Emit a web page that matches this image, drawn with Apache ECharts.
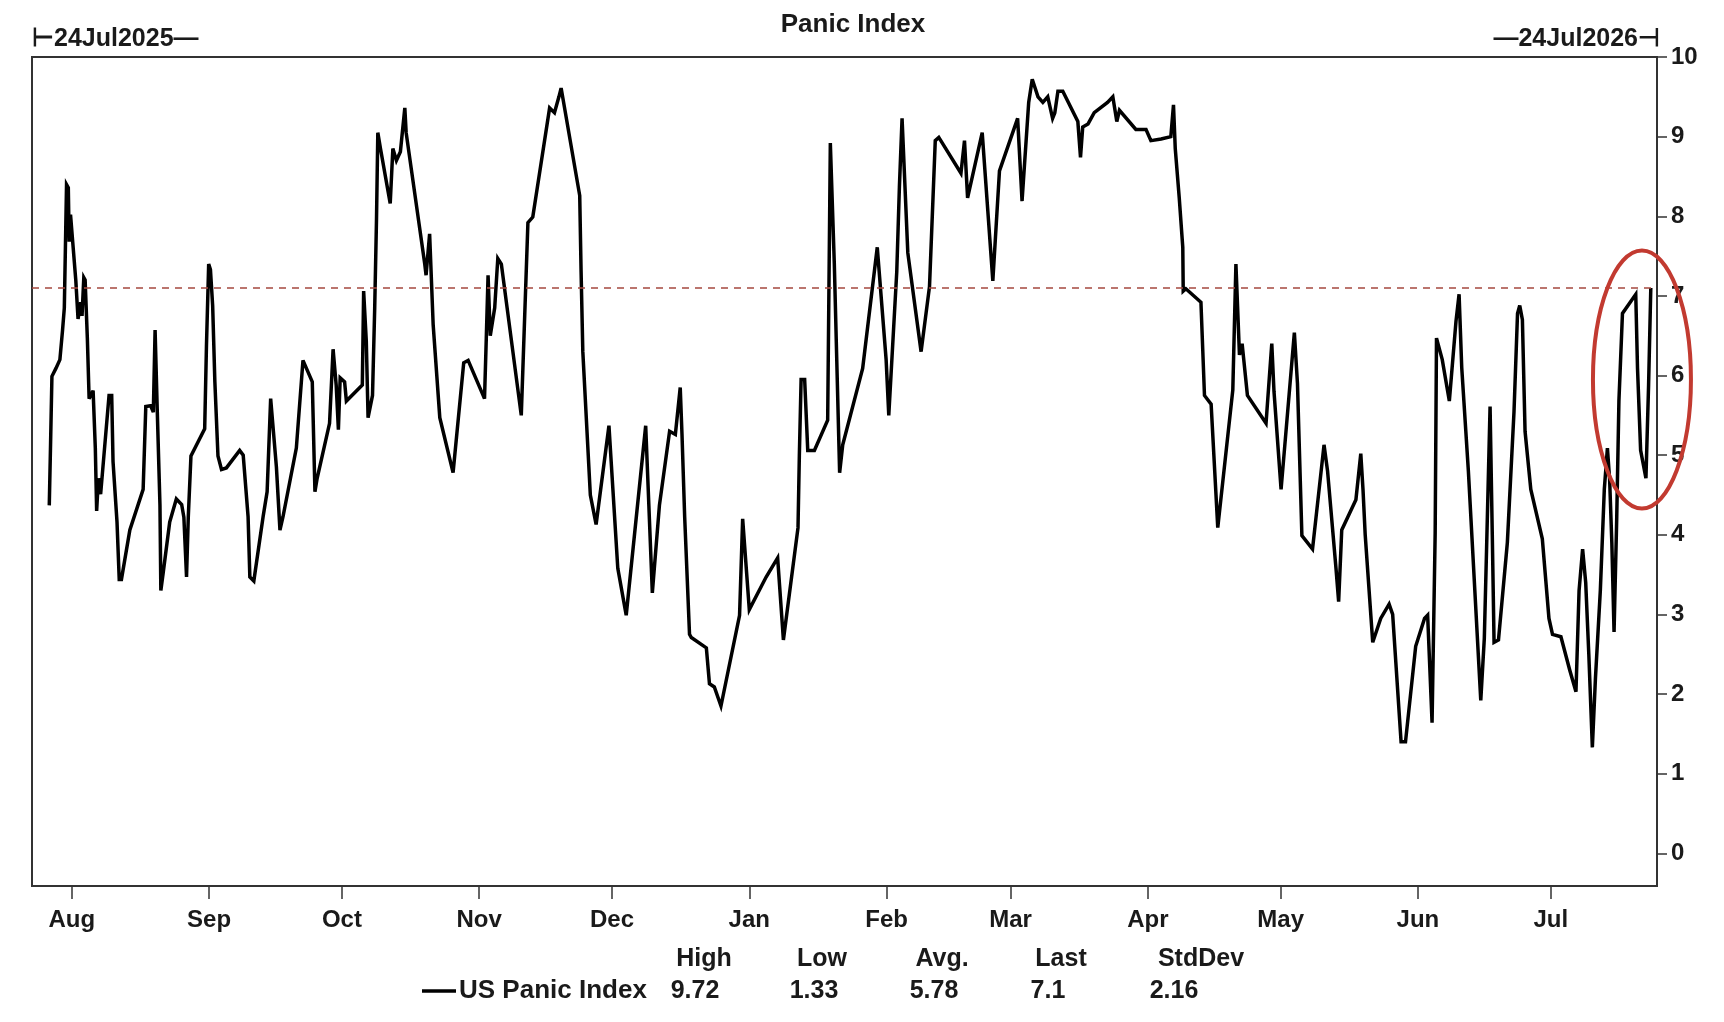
<!DOCTYPE html>
<html>
<head>
<meta charset="utf-8">
<script src="https://cdn.jsdelivr.net/npm/echarts@6/dist/echarts.min.js"></script>
<style>
html,body{margin:0;padding:0;background:#fff;}
#chart{width:1724px;height:1022px;}
</style>
</head>
<body>
<div id="chart"></div>
<script>
// ---------- DATA ----------
const seriesName = 'US Panic Index';
const chartTitle = 'Panic Index';
const startLabel = '24Jul2025';
const endLabel = '24Jul2026';
// days elapsed since 2025-08-01 for each vertex
const baseDate = '2025-08-01';
const dayOffsets = [
  -5.1,-4.8,-4.5,-3.6,-2.7,-2.1,-1.7,-1.2,-0.8,-0.6,-0.3,0.9,1.4,2.0,2.3,2.7,3.0,3.5,3.9,4.8,
  5.3,5.6,6.0,6.5,8.4,9.0,9.3,10.2,10.7,11.2,13.1,16.1,16.7,17.8,18.4,18.8,19.3,19.9,20.1,20.6,
  22.1,23.6,24.8,25.3,25.9,26.3,26.9,30.0,30.4,30.9,31.3,31.8,32.3,33.0,33.8,34.9,37.9,38.7,39.8,40.2,
  41.1,43.2,44.1,44.9,46.2,47.0,47.7,50.7,52.2,54.3,54.9,55.4,58.2,59.0,59.7,60.2,60.6,61.6,62.0,65.6,
  65.9,66.5,66.9,67.9,68.4,68.8,69.1,69.7,71.9,72.5,73.3,74.2,75.2,75.5,79.7,80.0,80.8,81.6,83.1,86.1,
  88.5,89.5,93.2,93.6,94.0,94.5,95.5,96.2,97.0,101.5,103.0,104.1,107.9,109.0,110.0,110.5,114.7,115.0,115.4,117.1,
  118.4,121.3,123.3,125.2,129.6,131.1,132.7,135.0,136.3,137.4,137.8,138.4,139.5,139.9,143.3,144.0,145.1,146.6,150.8,151.5,
  153.0,156.8,159.4,160.7,164.0,164.3,164.7,165.5,166.2,167.7,170.7,171.3,172.2,173.4,174.1,178.6,181.9,183.9,184.5,186.3,
  186.9,187.5,188.8,191.8,193.7,195.0,195.8,200.8,201.6,202.3,205.6,208.0,209.5,213.6,214.6,216.1,216.9,218.2,219.3,220.4,
  221.5,222.0,222.7,223.8,227.2,227.8,228.3,229.5,230.9,233.9,235.1,236.0,236.6,240.3,242.6,243.7,246.0,248.2,248.8,249.2,
  250.1,250.9,251.0,251.6,255.0,255.8,257.3,258.8,262.2,262.9,263.7,264.3,265.5,269.7,271.0,271.5,273.1,276.1,276.8,277.8,
  280.2,282.8,283.6,285.5,286.1,286.8,290.0,291.1,291.6,292.1,293.8,295.6,297.5,298.3,300.2,301.2,303.5,305.5,306.2,307.2,
  307.9,308.2,309.5,311.1,312.6,313.3,313.9,315.4,318.2,319.0,319.5,320.3,320.8,321.2,322.2,324.2,325.7,326.5,327.0,327.6,
  328.2,329.5,332.1,333.6,334.4,336.3,338.3,339.7,340.4,341.2,341.9,342.6,343.4,344.1,345.2,346.1,346.8,347.3,347.8,348.3,
  348.9,349.4,350.2,353.2,353.6,354.3,355.5,356.1,356.6
];
const panicValues = [
  4.37,5.16,5.99,6.09,6.20,6.57,6.85,8.40,8.36,7.68,8.02,7.19,6.71,6.92,6.75,7.23,7.20,6.47,5.71,5.81,
  5.09,4.30,4.71,4.51,5.75,5.75,4.92,4.16,3.44,3.44,4.06,4.57,5.61,5.62,5.54,6.57,5.54,4.37,3.30,3.51,
  4.16,4.45,4.38,4.22,3.47,4.23,4.99,5.33,6.37,7.40,7.33,6.88,5.92,4.99,4.82,4.84,5.06,5.00,4.23,3.47,
  3.42,4.23,4.54,5.71,4.85,4.06,4.23,5.09,6.19,5.92,4.54,4.71,5.40,6.33,5.88,5.32,5.97,5.92,5.68,5.88,
  7.06,6.43,5.47,5.75,6.85,7.95,9.05,8.85,8.16,8.85,8.70,8.81,9.36,9.05,7.40,7.26,7.78,6.64,5.47,4.78,
  6.16,6.19,5.71,6.47,7.26,6.50,6.85,7.47,7.40,5.50,7.92,7.99,9.36,9.30,9.50,9.61,8.26,7.33,6.30,4.50,
  4.13,5.37,3.58,2.99,5.37,3.27,4.37,5.30,5.26,5.85,5.26,4.23,2.75,2.71,2.58,2.13,2.09,1.85,2.99,4.20,
  3.06,3.47,3.71,2.68,4.09,4.99,5.95,5.95,5.06,5.06,5.44,8.92,7.40,4.78,5.13,6.09,7.61,6.20,5.50,7.30,
  8.37,9.23,7.54,6.30,7.12,8.95,8.99,8.54,8.95,8.23,9.05,7.19,8.57,9.23,8.19,9.43,9.72,9.50,9.43,9.50,
  9.23,9.30,9.57,9.57,9.19,8.74,9.12,9.16,9.30,9.43,9.50,9.19,9.33,9.09,9.09,8.95,8.97,9.00,9.40,8.85,
  8.23,7.61,7.06,7.09,6.92,5.75,5.64,4.09,5.82,7.40,6.26,6.40,5.75,5.40,6.40,5.80,4.57,6.54,5.90,3.99,
  3.82,5.13,4.80,3.58,3.16,4.06,4.44,5.02,4.57,4.00,2.65,2.95,3.13,3.00,1.40,1.40,2.60,2.95,2.99,1.64,
  4.02,6.47,6.20,5.68,6.68,7.02,6.10,4.80,1.92,2.70,3.80,5.61,4.00,2.65,2.68,3.90,5.54,6.78,6.88,6.70,
  5.30,4.57,3.95,2.95,2.75,2.72,2.30,2.03,3.30,3.82,3.40,2.50,1.33,2.20,3.30,4.57,5.09,4.70,3.90,2.78,
  4.20,5.68,6.78,7.02,6.09,5.06,4.71,5.88,7.10
];
const monthLabels = ['Aug','Sep','Oct','Nov','Dec','Jan','Feb','Mar','Apr','May','Jun','Jul'];
const yTickValues = [0,1,2,3,4,5,6,7,8,9,10];
const statHeaders = ['High','Low','Avg.','Last','StdDev'];
const statValues = ['9.72','1.33','5.78','7.1','2.16'];
const lastValue = 7.1;
// ---------- BUILD ----------
const DAY = 86400000;
const baseTs = Date.parse(baseDate + 'T00:00:00Z');
const toDay = ts => (ts - baseTs) / DAY;
const points = dayOffsets.map((d, i) => [d, panicValues[i]]);
const monthTicks = monthLabels.map((m, i) => toDay(Date.UTC(2025, 7 + i, 1)));
const xMin = toDay(Date.UTC(2025, 6, 23));
const xMax = toDay(Date.UTC(2026, 6, 25));

const FONT = '"Liberation Sans", Arial, sans-serif';
const TXT = '#1a1a1a';

const chart = echarts.init(document.getElementById('chart'), null, {renderer: 'canvas'});

const headerX = [704, 822, 942, 1061, 1201];
const valueX = [695, 814, 934, 1048, 1174];
const graphics = [
  {id:'title', type:'text', x:853, y:25, style:{text:chartTitle, font:'bold 26px ' + FONT, fill:TXT, textAlign:'center', textVerticalAlign:'middle'}},
  {id:'startLbl', type:'text', x:32, y:39, style:{text:'\u22A2' + startLabel + '\u2014', font:'bold 25px ' + FONT, fill:TXT, textAlign:'left', textVerticalAlign:'middle'}},
  {id:'endLbl', type:'text', x:1660, y:39, style:{text:'\u2014' + endLabel + '\u22A3', font:'bold 25px ' + FONT, fill:TXT, textAlign:'right', textVerticalAlign:'middle'}},
  {id:'legLine', type:'line', shape:{x1:422, y1:991, x2:456, y2:991}, style:{stroke:'#000', lineWidth:3.5}},
  {id:'legName', type:'text', x:459, y:991, style:{text:seriesName, font:'bold 26px ' + FONT, fill:TXT, textAlign:'left', textVerticalAlign:'middle'}}
];
statHeaders.forEach((h, i) => graphics.push({id:'h' + i, type:'text', x:headerX[i], y:959, style:{text:h, font:'bold 25px ' + FONT, fill:TXT, textAlign:'center', textVerticalAlign:'middle'}}));
statValues.forEach((v, i) => graphics.push({id:'v' + i, type:'text', x:valueX[i], y:991, style:{text:v, font:'bold 25px ' + FONT, fill:TXT, textAlign:'center', textVerticalAlign:'middle'}}));

chart.setOption({
  animation: false,
  backgroundColor: '#fff',
  grid: {left:32, right:67, top:57, bottom:136, show:true, borderColor:'#333', borderWidth:2, containLabel:false},
  xAxis: {
    type: 'value', min: xMin, max: xMax, position: 'bottom',
    axisLine: {show:true, onZero:false, lineStyle:{color:'#333', width:2}},
    axisTick: {show:true, inside:false, customValues: monthTicks, length:13, lineStyle:{color:'#333', width:1.5}},
    axisLabel: {customValues: monthTicks, margin:22, color:TXT, fontFamily:FONT, fontWeight:'bold', fontSize:24,
      formatter: function (val) { return monthLabels[monthTicks.indexOf(val)] || ''; }},
    splitLine: {show:false}
  },
  yAxis: {
    type: 'value', position: 'right', min: -0.41, max: 10,
    axisLine: {show:true, onZero:false, lineStyle:{color:'#333', width:2}},
    axisTick: {show:true, inside:false, customValues: yTickValues, length:10, lineStyle:{color:'#333', width:1.5}},
    axisLabel: {customValues: yTickValues, margin:14, color:TXT, fontFamily:FONT, fontWeight:'bold', fontSize:24},
    splitLine: {show:false}
  },
  series: [{
    name: seriesName, type: 'line', data: points, symbol: 'none', smooth: false,
    lineStyle: {color:'#000', width:3.5, join:'miter', miterLimit:4},
    markLine: {
      silent: true, symbol: ['none','none'], label:{show:false},
      lineStyle: {color:'#a5483f', type:[7,6], width:1.5},
      data: [{yAxis: lastValue}]
    }
  }],
  graphic: graphics
});

// annotation ellipse around the latest move, placed through the axes
const c = chart.convertToPixel({xAxisIndex:0, yAxisIndex:0}, [354.6, 5.95]);
chart.setOption({graphic: [{id:'ring', type:'ellipse', z:100, shape:{cx:c[0], cy:c[1], rx:49, ry:129}, style:{fill:'none', stroke:'#c23a30', lineWidth:4}}]});
</script>
</body>
</html>
